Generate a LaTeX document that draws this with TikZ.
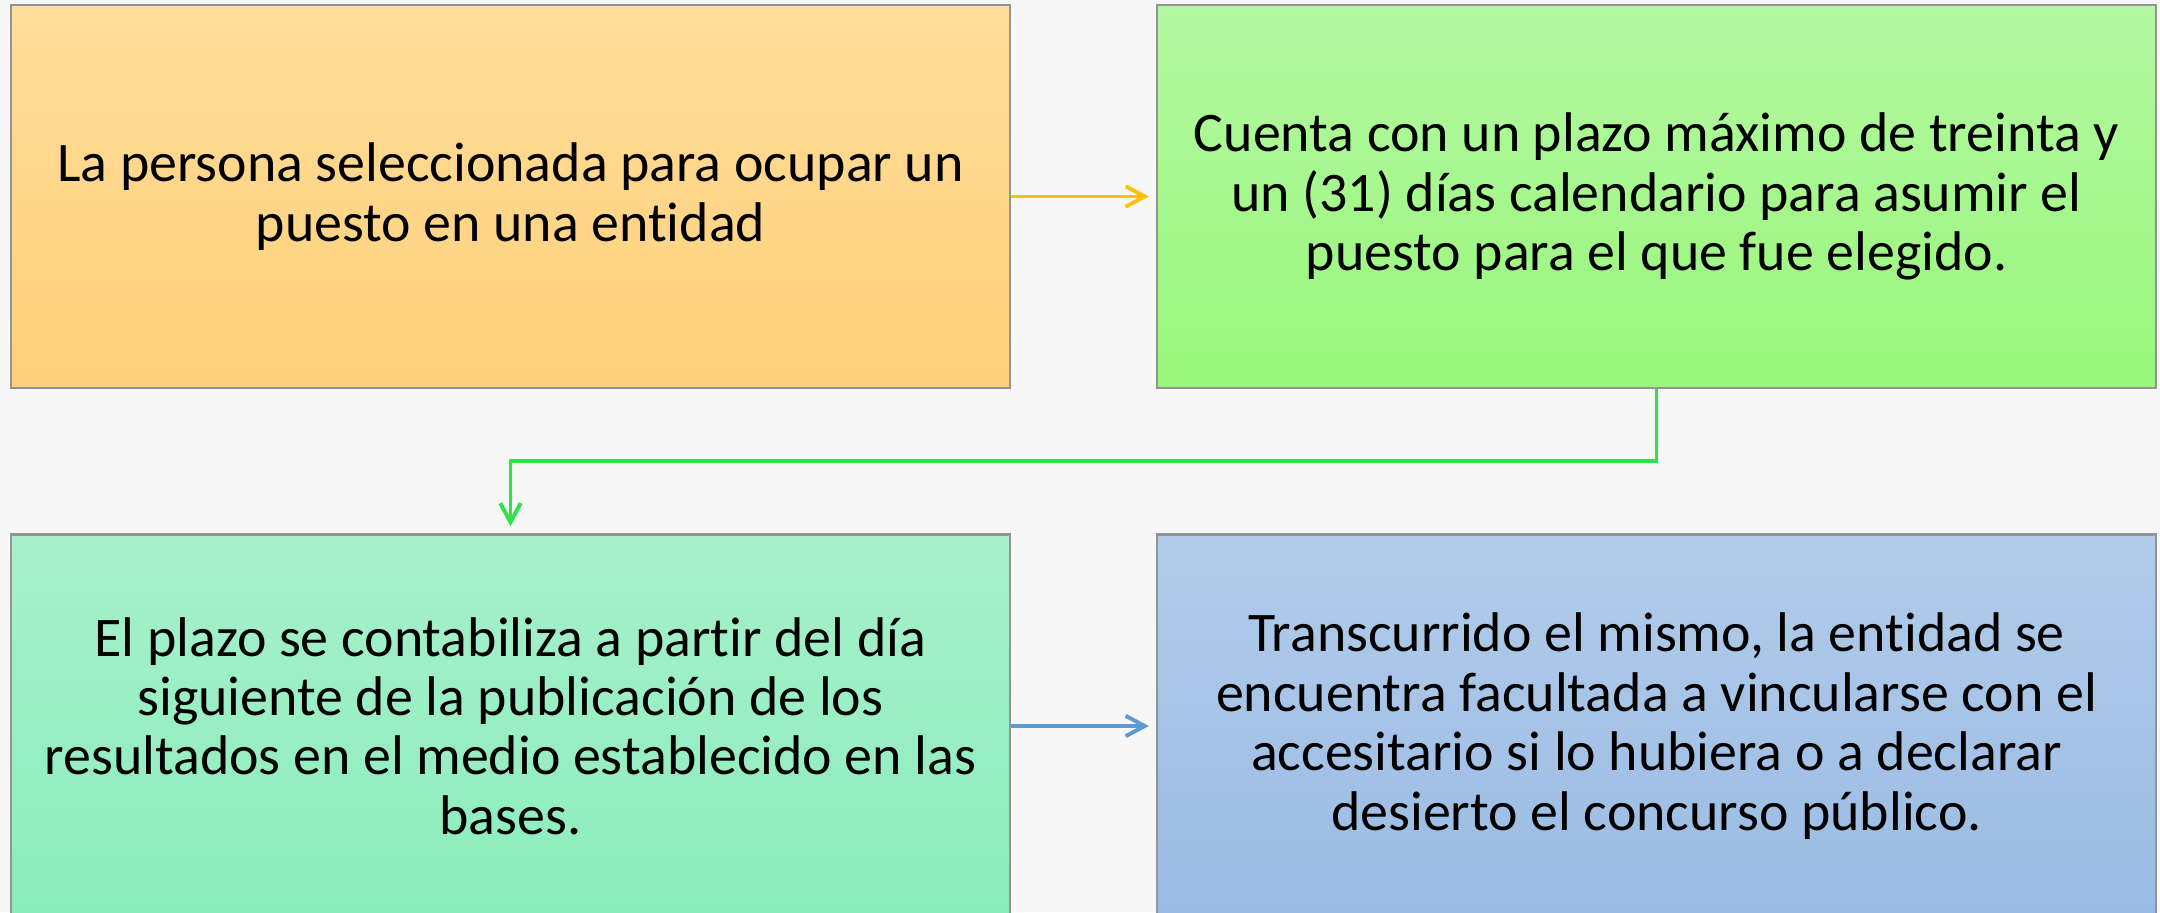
\documentclass[tikz,border=0pt]{standalone}
\usepackage{fontspec}
\setmainfont{Carlito}[Ligatures={NoCommon}]
\usetikzlibrary{arrows.meta}

\definecolor{fondo}{HTML}{F7F7F7}
\definecolor{naranja}{HTML}{FFC000}
\definecolor{verde}{HTML}{2EE24A}
\definecolor{azul}{HTML}{5B9BD5}

\begin{document}
\begin{tikzpicture}
        \tikzset{caja/.style={draw=gray!85, line width=0.7pt, minimum width=9.99cm, minimum height=3.83cm,
                inner sep=0pt, align=center, font=\fontsize{15.9pt}{16.9pt}\selectfont},
                flecha/.style={line width=1.1pt, -{Straight Barb[length=5.4pt,width=5.8pt]}, shorten >=2pt}}

        % fondo
        \fill[fondo] (0,0) rectangle (21.6,-9.12);
        \useasboundingbox (0,0) rectangle (21.6,-9.12);

        \node[caja, top color={rgb,255:red,255;green,221;blue,155}, bottom color={rgb,255:red,255;green,208;blue,122}]
            (seleccionada) at (5.105,-1.965)
            {La persona seleccionada para ocupar un\\puesto en una entidad};
        \node[caja, top color={rgb,255:red,180;green,248;blue,162}, bottom color={rgb,255:red,152;green,247;blue,122}]
            (plazo) at (16.565,-1.965)
            {Cuenta con un plazo máximo de treinta y\\un (31) días calendario para asumir el\\puesto para el que fue elegido.};
        \node[caja, top color={rgb,255:red,168;green,240;blue,202}, bottom color={rgb,255:red,138;green,237;blue,188}]
            (contabiliza) at (5.105,-7.26)
            {El plazo se contabiliza a partir del día\\siguiente de la publicación de los\\resultados en el medio establecido en las\\bases.};
        \node[caja, top color={rgb,255:red,178;green,204;blue,234}, bottom color={rgb,255:red,154;green,187;blue,228}]
            (transcurrido) at (16.565,-7.26)
            {Transcurrido el mismo, la entidad se\\encuentra facultada a vincularse con el\\accesitario si lo hubiera o a declarar\\desierto el concurso público.};

        \draw[flecha, naranja] (seleccionada) -- (plazo);
        \draw[flecha, verde] (plazo.south) -- ++(0,-0.72) -| (contabiliza.north);
        \draw[flecha, azul] (contabiliza) -- (transcurrido);
    \end{tikzpicture}
\end{document}
